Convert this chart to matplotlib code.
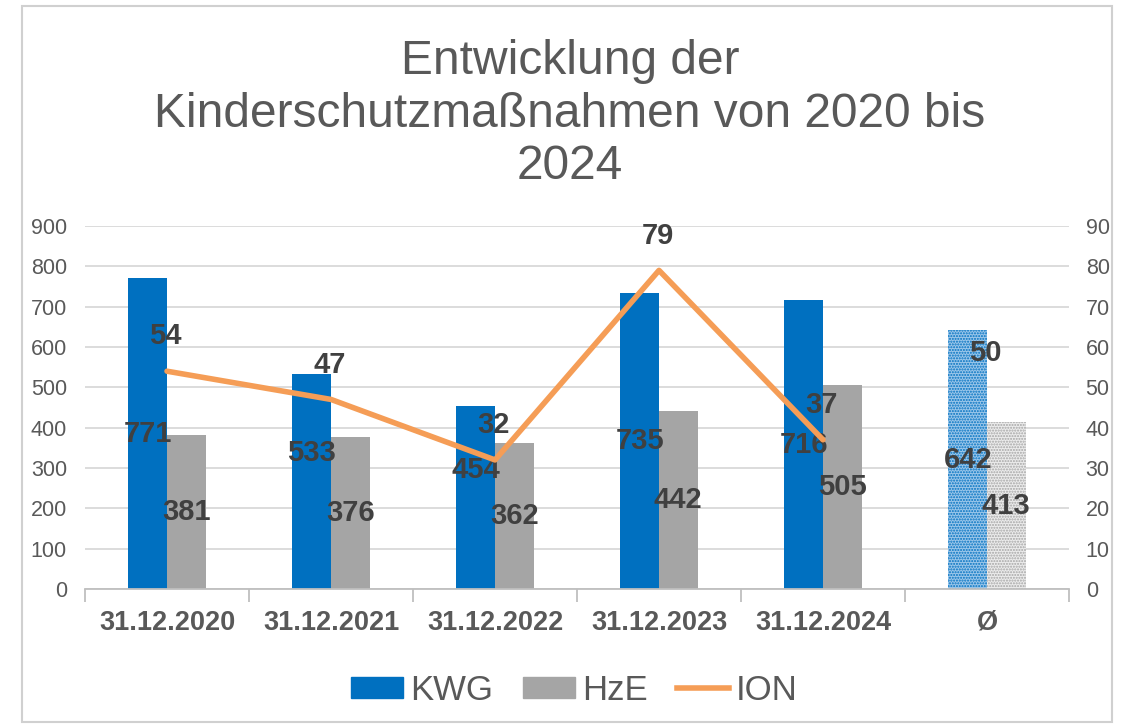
import matplotlib
matplotlib.use("Agg")
import matplotlib.pyplot as plt
from matplotlib.patches import Patch, Rectangle
from matplotlib.lines import Line2D
import numpy as np

plt.rcParams['font.family'] = ['Liberation Sans', 'DejaVu Sans']

# data
categories = ["31.12.2020", "31.12.2021", "31.12.2022", "31.12.2023", "31.12.2024", "Ø"]
kwg = [771, 533, 454, 735, 716, 642]
hze = [381, 376, 362, 442, 505, 413]
ion = [54, 47, 32, 79, 37, 50]

# where the KWG labels sit (excel moved some of them)
kwg_label_y = [385, 337, 295, 368, 358, 321]

c_kwg = "#0070c0"
c_hze = "#a5a5a5"
c_ion = "#f59d56"
c_text = "#595959"
c_label = "#404040"

fig = plt.figure(figsize=(11.22, 7.28), dpi=100)
fig.patches.append(Rectangle((22 / 1122, 6 / 728), 1090 / 1122, 716 / 728, transform=fig.transFigure,
                             fill=False, edgecolor="#d0d0d0", linewidth=1.5))

ax = fig.add_axes([85 / 1122, 139 / 728, 984 / 1122, 363 / 728])
x = np.arange(len(categories))
w = 0.235

# normal bars, the average bars get a dotted fill
for i in range(len(categories)):
    if categories[i] == "Ø":
        ax.bar(x[i] - w / 2, kwg[i], w, facecolor="#9cc7ea", edgecolor=c_kwg, hatch="......", linewidth=0)
        ax.bar(x[i] + w / 2, hze[i], w, facecolor="#ececec", edgecolor=c_hze, hatch="......", linewidth=0)
    else:
        ax.bar(x[i] - w / 2, kwg[i], w, color=c_kwg)
        ax.bar(x[i] + w / 2, hze[i], w, color=c_hze)

for i in range(len(categories)):
    ax.text(x[i] - w / 2, kwg_label_y[i], str(kwg[i]), ha="center", va="center", fontsize=21,
            fontweight="bold", color=c_label)
    ax.text(x[i] + w / 2, hze[i] / 2, str(hze[i]), ha="center", va="center", fontsize=21,
            fontweight="bold", color=c_label)

ax.set_xlim(-0.5, len(categories) - 0.5)
ax.set_ylim(0, 900)
ax.set_yticks(np.arange(0, 901, 100))
ax.yaxis.grid(True, color="#d9d9d9", linewidth=1.3)
ax.set_axisbelow(True)
for s in ["left", "right", "top"]:
    ax.spines[s].set_visible(False)
ax.spines["bottom"].set_color("#bfbfbf")
ax.spines["bottom"].set_linewidth(1.3)
ax.set_xticks(x)
ax.set_xticklabels(categories, fontsize=19.5, fontweight="bold", color=c_text)
ax.set_xticks(np.arange(-0.5, len(categories), 1), minor=True)
ax.tick_params(axis="x", which="major", length=0, pad=15)
ax.tick_params(axis="x", which="minor", length=9, color="#bfbfbf", width=1.3)
ax.tick_params(axis="y", length=0, labelsize=15.5, labelcolor=c_text, pad=13)

ax2 = ax.twinx()
ax2.set_ylim(0, 90)
ax2.set_yticks(np.arange(0, 91, 10))
ax2.tick_params(axis="y", length=0, labelsize=15.5, labelcolor=c_text, pad=12)
for s in ax2.spines.values():
    s.set_visible(False)

# ION line only over the years, the average is just labelled
ax2.plot(x[:5], ion[:5], color=c_ion, linewidth=4, solid_capstyle="round")
for i in range(len(categories)):
    ax2.annotate(str(ion[i]), (x[i], ion[i]), xytext=(-1, 25), textcoords="offset points",
                 ha="center", va="center", fontsize=21, fontweight="bold", color=c_label)

fig.text(0.508, 0.843, "Entwicklung der\nKinderschutzmaßnahmen von 2020 bis\n2024", ha="center", va="center",
         fontsize=34.5, color=c_text, linespacing=1.22)

handles = [Patch(color=c_kwg), Patch(color=c_hze), Line2D([0], [0], color=c_ion, linewidth=4)]
fig.legend(handles, ["KWG", "HzE", "ION"], loc="center", bbox_to_anchor=(0.512, 0.052), ncol=3, frameon=False,
           fontsize=25, labelcolor=c_text, handlelength=1.5, handleheight=0.55, handletextpad=0.2,
           columnspacing=0.86)

fig.savefig("out.png", dpi=100)
